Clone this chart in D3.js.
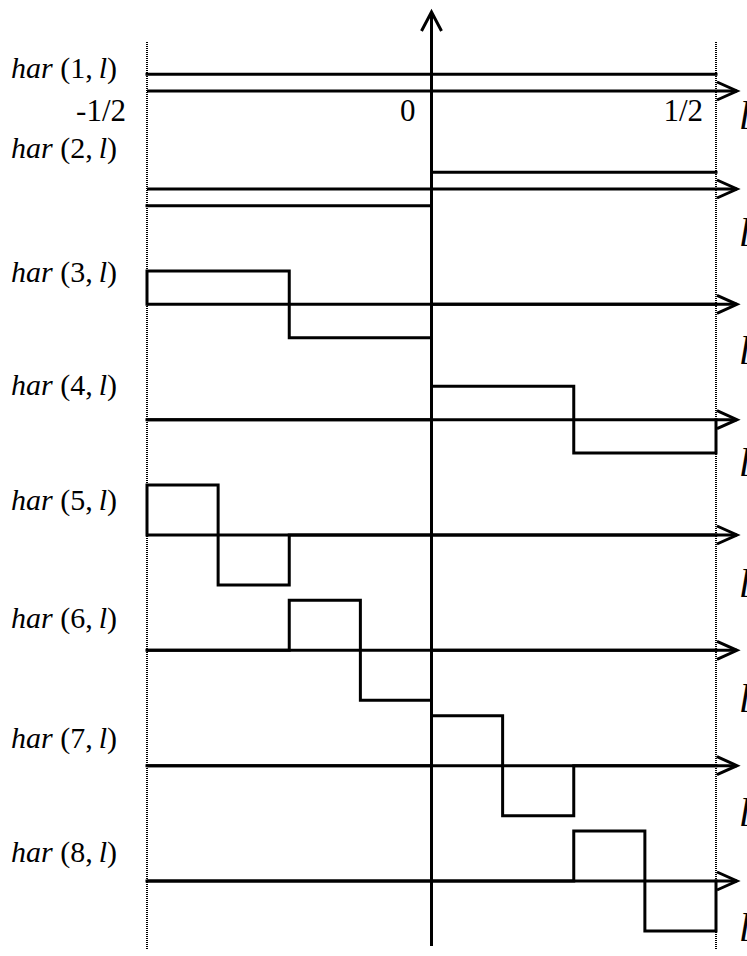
<!DOCTYPE html>
<html>
<head>
<meta charset="utf-8">
<script src="https://cdn.jsdelivr.net/npm/d3@7"></script>
<style>
  html, body { margin: 0; padding: 0; background: #fff; }
  svg { display: block; }
  text { font-family: "Liberation Serif", "DejaVu Serif", serif; fill: #000; }
</style>
</head>
<body>
<svg id="chart" width="747" height="956"></svg>
<script>
// ---- data ----
const functionIndex = [1, 2, 3, 4, 5, 6, 7, 8];
const segmentEdges = [-0.5, -0.375, -0.25, -0.125, 0, 0.125, 0.25, 0.375, 0.5];
// value of each function on the 8 dyadic sub-intervals (in drawing units)
const har1 = [1, 1, 1, 1, 1, 1, 1, 1];
const har2 = [-1, -1, -1, -1, 1, 1, 1, 1];
const har3 = [2, 2, -2, -2, 0, 0, 0, 0];
const har4 = [0, 0, 0, 0, 2, 2, -2, -2];
const har5 = [3, -3, 0, 0, 0, 0, 0, 0];
const har6 = [0, 0, 3, -3, 0, 0, 0, 0];
const har7 = [0, 0, 0, 0, 3, -3, 0, 0];
const har8 = [0, 0, 0, 0, 0, 0, 3, -3];
const seriesValues = [har1, har2, har3, har4, har5, har6, har7, har8];
const closedEdges = [false, false, true, true, true, true, true, true];
const tickValues = [-0.5, 0, 0.5];
const tickLabels = ["-1/2", "0", "1/2"];
const axisName = "l";

// ---- layout ----
const svg = d3.select("#chart");
const x = d3.scaleLinear().domain([-0.5, 0.5]).range([147, 716]);
const rowY = d3.scaleLinear().domain([1, 2, 8]).range([91, 189, 881]);
const amp = d3.scaleLinear().domain([0, 3]).range([0, -50]);
const labelOffset = [-13, -31, -22, -25, -25, -22, -18, -19];
const lOffset = [38, 57, 60, 56, 62, 62, 60, 60];
const stroke = 3;
const axisEnd = 737;

// dotted boundary lines
svg.selectAll("line.bound").data([-0.5, 0.5]).join("line")
  .attr("class", "bound")
  .attr("x1", d => x(d)).attr("x2", d => x(d))
  .attr("y1", 42).attr("y2", 950)
  .attr("stroke", "#000").attr("stroke-width", 2)
  .attr("stroke-dasharray", "1,1");

// vertical axis
const x0 = x(0);
svg.append("line")
  .attr("x1", x0).attr("x2", x0).attr("y1", 12).attr("y2", 946)
  .attr("stroke", "#000").attr("stroke-width", stroke);
svg.append("path")
  .attr("d", `M${x0 - 10},31 L${x0},12 L${x0 + 10},31`)
  .attr("fill", "none").attr("stroke", "#000").attr("stroke-width", stroke);

// horizontal axes with arrows
const rows = svg.selectAll("g.row").data(functionIndex).join("g").attr("class", "row");
rows.append("line")
  .attr("x1", x(-0.5)).attr("x2", axisEnd)
  .attr("y1", d => rowY(d)).attr("y2", d => rowY(d))
  .attr("stroke", "#000").attr("stroke-width", stroke);
rows.append("path")
  .attr("d", d => `M${axisEnd - 20},${rowY(d) - 9} L${axisEnd},${rowY(d)} L${axisEnd - 20},${rowY(d) + 9}`)
  .attr("fill", "none").attr("stroke", "#000").attr("stroke-width", stroke);

// step functions
const line = d3.line().curve(d3.curveStepAfter);
rows.append("path")
  .attr("d", (d, i) => {
    const vals = seriesValues[i];
    const base = rowY(d);
    const pts = vals.map((v, k) => [x(segmentEdges[k]), base + amp(v)]);
    pts.push([x(segmentEdges[8]), base + amp(vals[7])]);
    if (closedEdges[i]) {
      pts.unshift([x(segmentEdges[0]), base]);
      pts.push([x(segmentEdges[8]), base]);
    }
    return line(pts);
  })
  .attr("fill", "none").attr("stroke", "#000").attr("stroke-width", stroke)
  .attr("stroke-linejoin", "miter").attr("stroke-linecap", "square");

// function labels
const lab = rows.append("text")
  .attr("x", 11)
  .attr("y", (d, i) => rowY(d) + labelOffset[i])
  .attr("font-size", 30);
lab.append("tspan").attr("font-style", "italic").text("har");
lab.append("tspan").text(d => ` (${d},\u2009`);
lab.append("tspan").attr("font-style", "italic").text("l");
lab.append("tspan").text(")");

// axis name "l" at right of each row (partially clipped, as in the original)
rows.append("text")
  .attr("x", 739)
  .attr("y", (d, i) => rowY(d) + lOffset[i])
  .attr("font-size", 40).attr("font-style", "italic")
  .text(axisName);

// tick labels on first axis
svg.selectAll("text.tick").data(tickValues).join("text")
  .attr("class", "tick")
  .attr("x", d => x(d) + (d === -0.5 ? -21 : d === 0 ? -16 : -13))
  .attr("y", 121)
  .attr("text-anchor", "end")
  .attr("font-size", 31)
  .text((d, i) => tickLabels[i]);
</script>
</body>
</html>
